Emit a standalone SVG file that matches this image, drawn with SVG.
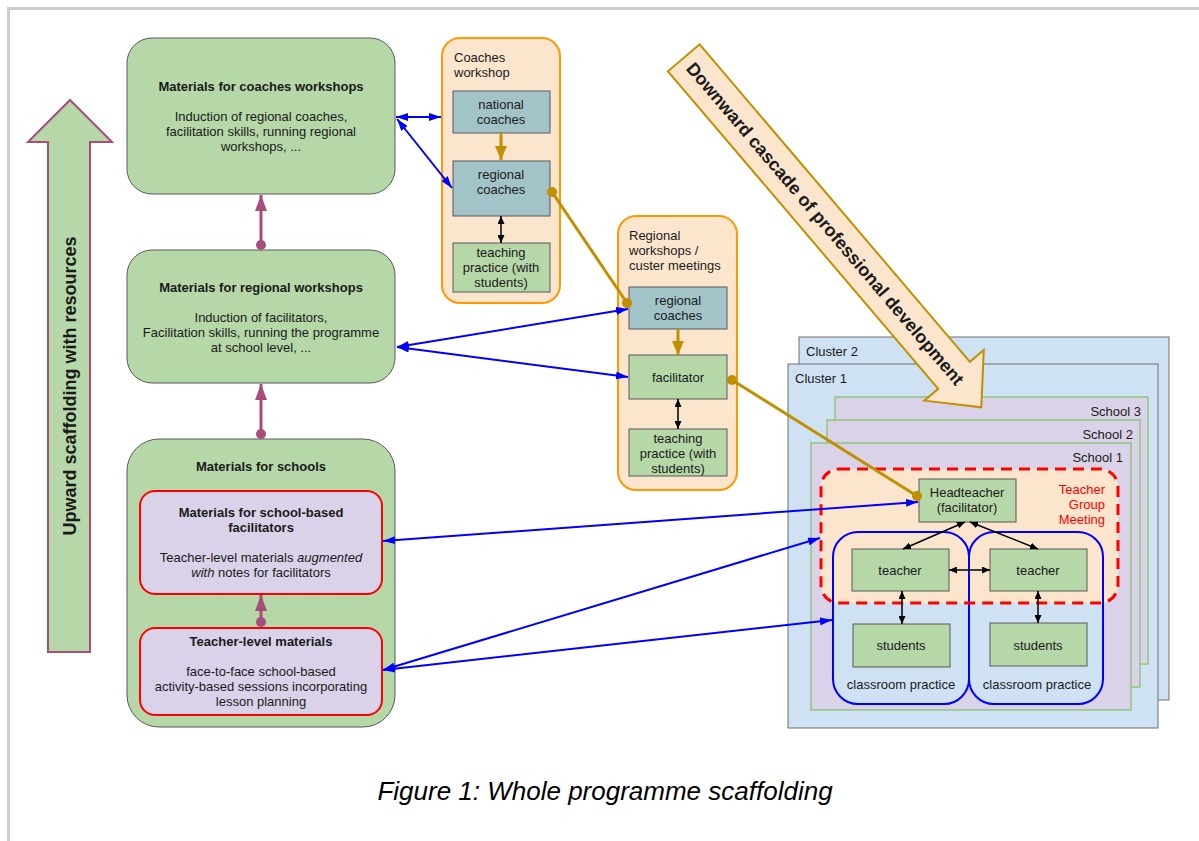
<svg xmlns="http://www.w3.org/2000/svg" width="1199" height="841" viewBox="0 0 1199 841">
<style>
text{font-family:"Liberation Sans",Arial,sans-serif;font-size:13px;fill:#1a1a1a}
.b{font-weight:bold}
.c{text-anchor:middle}
.r{text-anchor:end}
.big{fill:#b6d7a8;stroke:#595959;stroke-width:1}
.inner{fill:#d9d2e9;stroke:#ff0000;stroke-width:2}
.panel{fill:#fce5cd;stroke:#ff9900;stroke-width:2}
.teal{fill:#a2c4c9;stroke:#595959;stroke-width:1}
.grn{fill:#b6d7a8;stroke:#595959;stroke-width:1}
.clu{fill:#cfe2f3;stroke:#6f6f6f;stroke-width:1}
.sch{fill:#d9d2e9;stroke:#93c47d;stroke-width:1.5}
.blue{stroke:#0000ff;stroke-width:2;fill:none;marker-start:url(#ab);marker-end:url(#ab)}
.blk{stroke:#000;stroke-width:1.5;fill:none;marker-start:url(#ak);marker-end:url(#ak)}
.gold{stroke:#bf9000;stroke-width:3;fill:none}
.pur{stroke:#a64d79;stroke-width:3;fill:none}
</style>
<defs>
<marker id="ab" viewBox="0 0 12 8" refX="12" refY="4" markerWidth="12" markerHeight="8" orient="auto-start-reverse" markerUnits="userSpaceOnUse"><path d="M0,0 L12,4 L0,8 z" fill="#0000ff"/></marker>
<marker id="ak" viewBox="0 0 8 7" refX="8" refY="3.5" markerWidth="8" markerHeight="7" orient="auto-start-reverse" markerUnits="userSpaceOnUse"><path d="M0,0 L8,3.5 L0,7 z" fill="#000"/></marker>
<marker id="ag" viewBox="0 0 14 12" refX="14" refY="6" markerWidth="14" markerHeight="12" orient="auto" markerUnits="userSpaceOnUse"><path d="M0,0 L14,6 L0,12 z" fill="#bf9000"/></marker>
<marker id="ap" viewBox="0 0 16 12" refX="16" refY="6" markerWidth="16" markerHeight="12" orient="auto" markerUnits="userSpaceOnUse"><path d="M0,0 L16,6 L0,12 z" fill="#a64d79"/></marker>
</defs>

<g id="frame">
<line x1="7" y1="8.5" x2="1199" y2="8.5" stroke="#cccccc" stroke-width="3"/>
<line x1="8.5" y1="7" x2="8.5" y2="841" stroke="#cccccc" stroke-width="3"/>
</g>

<g id="upward-arrow">
<polygon points="70,100 112,142 90,142 90,652 48,652 48,142 28,142" fill="#b6d7a8" stroke="#a64d79" stroke-width="2"/>
<text class="b c" font-size="18" transform="translate(70,386) rotate(-90)" dominant-baseline="central" style="font-size:18px">Upward scaffolding with resources</text>
</g>

<g id="box-coaches-materials">
<rect class="big" x="127" y="38" width="268" height="156" rx="25"/>
<text class="b c" x="261" y="91">Materials for coaches workshops</text>
<text class="c" x="261" y="121">Induction of regional coaches,</text>
<text class="c" x="261" y="136">facilitation skills, running regional</text>
<text class="c" x="261" y="151">workshops, ...</text>
</g>

<g id="box-regional-materials">
<rect class="big" x="127" y="250" width="268" height="133" rx="25"/>
<text class="b c" x="261" y="292">Materials for regional workshops</text>
<text class="c" x="261" y="322">Induction of facilitators,</text>
<text class="c" x="261" y="337">Facilitation skills, running the programme</text>
<text class="c" x="261" y="352">at school level, ...</text>
</g>

<g id="box-schools-materials">
<rect class="big" x="127" y="439" width="268" height="288" rx="32"/>
<text class="b c" x="261" y="471">Materials for schools</text>
</g>

<g id="box-facilitator-materials">
<rect class="inner" x="140" y="491" width="242" height="103" rx="15"/>
<text class="b c" x="261" y="517">Materials for school-based</text>
<text class="b c" x="261" y="532">facilitators</text>
<text class="c" x="261" y="562">Teacher-level materials <tspan font-style="italic">augmented</tspan></text>
<text class="c" x="261" y="577"><tspan font-style="italic">with</tspan> notes for facilitators</text>
</g>

<g id="box-teacher-materials">
<rect class="inner" x="140" y="628" width="242" height="87" rx="15"/>
<text class="b c" x="261" y="646">Teacher-level materials</text>
<text class="c" x="261" y="676">face-to-face school-based</text>
<text class="c" x="261" y="691">activity-based sessions incorporating</text>
<text class="c" x="261" y="706">lesson planning</text>
</g>

<g id="coaches-workshop">
<rect class="panel" x="442" y="38" width="118" height="265" rx="18"/>
<text x="454" y="62">Coaches</text>
<text x="454" y="77">workshop</text>
</g>
<g id="cw-national">
<rect class="teal" x="453" y="91" width="97" height="42"/>
<text class="c" x="501" y="109">national</text>
<text class="c" x="501" y="124">coaches</text>
</g>
<g id="cw-regional">
<rect class="teal" x="453" y="161" width="97" height="55"/>
<text class="c" x="501" y="179">regional</text>
<text class="c" x="501" y="194">coaches</text>
</g>
<g id="cw-practice">
<rect class="grn" x="453" y="243" width="97" height="49"/>
<text class="c" x="501" y="257">teaching</text>
<text class="c" x="501" y="272">practice (with</text>
<text class="c" x="501" y="287">students)</text>
</g>

<g id="regional-workshops">
<rect class="panel" x="618" y="216" width="119" height="274" rx="18"/>
<text x="629" y="240">Regional</text>
<text x="629" y="255">workshops /</text>
<text x="629" y="270">custer meetings</text>
</g>
<g id="rw-coaches">
<rect class="teal" x="629" y="287" width="98" height="42"/>
<text class="c" x="678" y="305">regional</text>
<text class="c" x="678" y="320">coaches</text>
</g>
<g id="rw-facilitator">
<rect class="grn" x="629" y="355" width="98" height="44"/>
<text class="c" x="678" y="382">facilitator</text>
</g>
<g id="rw-practice">
<rect class="grn" x="629" y="429" width="98" height="47"/>
<text class="c" x="678" y="443">teaching</text>
<text class="c" x="678" y="458">practice (with</text>
<text class="c" x="678" y="473">students)</text>
</g>

<g id="cluster-2">
<rect class="clu" x="799" y="337" width="370" height="363"/>
<text x="806" y="356">Cluster 2</text>
</g>
<g id="cluster-1">
<rect class="clu" x="788" y="364" width="370" height="364"/>
<text x="795" y="383">Cluster 1</text>
</g>
<g id="school-3">
<rect class="sch" x="835" y="397" width="313" height="267"/>
<text class="r" x="1141" y="416">School 3</text>
</g>
<g id="school-2">
<rect class="sch" x="827" y="420" width="313" height="267"/>
<text class="r" x="1133" y="439">School 2</text>
</g>
<g id="school-1">
<rect class="sch" x="811" y="443" width="320" height="267"/>
<text class="r" x="1123" y="462">School 1</text>
</g>

<g id="classroom-fills">
<rect x="833" y="532" width="136" height="172" rx="25" fill="#cfe2f3"/>
<rect x="969" y="532" width="134" height="172" rx="25" fill="#cfe2f3"/>
</g>
<g id="teacher-group-meeting">
<rect x="821" y="469" width="297" height="134" rx="18" fill="#fce5cd"/>
</g>
<g id="classroom-1">
<rect x="833" y="532" width="136" height="172" rx="25" fill="none" stroke="#0000ff" stroke-width="2"/>
<text class="c" x="901" y="689">classroom practice</text>
</g>
<g id="classroom-2">
<rect x="969" y="532" width="134" height="172" rx="25" fill="none" stroke="#0000ff" stroke-width="2"/>
<text class="c" x="1037" y="689">classroom practice</text>
</g>
<g id="tgm-border">
<rect x="821" y="469" width="297" height="134" rx="18" fill="none" stroke="#ff0000" stroke-width="3" stroke-dasharray="11,7"/>
<text class="r" x="1105" y="494" style="fill:#ff0000">Teacher</text>
<text class="r" x="1105" y="509" style="fill:#ff0000">Group</text>
<text class="r" x="1105" y="524" style="fill:#ff0000">Meeting</text>
</g>
<g id="headteacher">
<rect class="grn" x="919" y="479" width="97" height="43"/>
<text class="c" x="967" y="497">Headteacher</text>
<text class="c" x="967" y="512">(facilitator)</text>
</g>
<g id="teacher-1">
<rect class="grn" x="852" y="549" width="97" height="42"/>
<text class="c" x="900" y="575">teacher</text>
</g>
<g id="teacher-2">
<rect class="grn" x="990" y="549" width="97" height="42"/>
<text class="c" x="1038" y="575">teacher</text>
</g>
<g id="students-1">
<rect class="grn" x="853" y="624" width="97" height="43"/>
<text class="c" x="901" y="650">students</text>
</g>
<g id="students-2">
<rect class="grn" x="990" y="623" width="97" height="43"/>
<text class="c" x="1038" y="650">students</text>
</g>

<g id="downward-arrow" transform="translate(683.8,57.8) rotate(49.6)">
<polygon points="0,-20.8 417,-20.8 417,-39 459,0 417,39 417,20.8 0,20.8" fill="#fce5cd" stroke="#bf9000" stroke-width="2"/>
<text class="b c" x="218" y="0" dominant-baseline="central" style="font-size:18px">Downward cascade of professional development</text>
</g>

<g id="connectors">
<line class="pur" x1="261" y1="245" x2="261" y2="195" marker-end="url(#ap)"/>
<circle cx="261" cy="245" r="5" fill="#a64d79"/>
<line class="pur" x1="261" y1="434" x2="261" y2="384" marker-end="url(#ap)"/>
<circle cx="261" cy="434" r="5" fill="#a64d79"/>
<line class="pur" x1="261" y1="622" x2="261" y2="595" marker-end="url(#ap)"/>
<circle cx="261" cy="622" r="5" fill="#a64d79"/>

<line class="blue" x1="396" y1="117" x2="441" y2="117"/>
<line class="blue" x1="397" y1="119" x2="452" y2="188"/>
<line class="blue" x1="397" y1="347" x2="628" y2="309"/>
<line class="blue" x1="397" y1="347" x2="628" y2="377"/>
<line class="blue" x1="383" y1="541" x2="918" y2="502"/>
<line class="blue" x1="383" y1="670" x2="820" y2="538"/>
<line class="blue" x1="383" y1="670" x2="832" y2="620"/>

<line class="gold" x1="501" y1="133" x2="501" y2="160" marker-end="url(#ag)"/>
<line class="gold" x1="678" y1="329" x2="678" y2="355" marker-end="url(#ag)"/>
<line class="gold" x1="552" y1="192" x2="627" y2="303"/>
<circle cx="552" cy="192" r="5" fill="#bf9000"/>
<circle cx="627" cy="303" r="5" fill="#bf9000"/>
<line class="gold" x1="732" y1="380" x2="917" y2="496"/>
<circle cx="732" cy="380" r="5" fill="#bf9000"/>
<circle cx="917" cy="496" r="5" fill="#bf9000"/>

<line class="blk" x1="501" y1="216" x2="501" y2="243"/>
<line class="blk" x1="678" y1="399" x2="678" y2="429"/>
<line class="blk" x1="965" y1="522" x2="903" y2="549"/>
<line class="blk" x1="970" y1="522" x2="1038" y2="549"/>
<line class="blk" x1="949" y1="570" x2="990" y2="570"/>
<line class="blk" x1="902" y1="591" x2="902" y2="624"/>
<line class="blk" x1="1038" y1="591" x2="1038" y2="623"/>
</g>

<g id="caption">
<text class="c" x="605" y="800" style="font-size:26px;font-style:italic;fill:#000">Figure 1: Whole programme scaffolding</text>
</g>
</svg>
